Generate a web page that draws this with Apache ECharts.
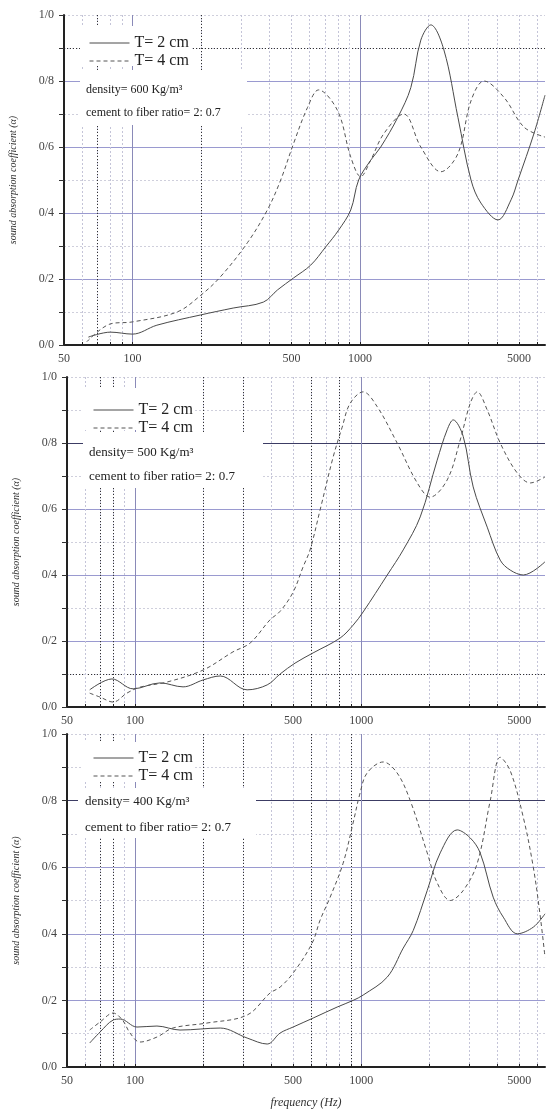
<!DOCTYPE html>
<html>
<head>
<meta charset="utf-8">
<script src="https://cdn.jsdelivr.net/npm/echarts@6/dist/echarts.min.js"></script>
<style>
html, body { margin: 0; padding: 0; background: #fff; }
#chart { width: 548px; height: 1113px; }
</style>
</head>
<body>
<div id="chart"></div>
<script>
// density 600 Kg/m3
var freq600a = [64, 80, 100, 128, 199, 277, 376, 434, 510, 607, 706, 805, 910, 986, 1114, 1233, 1466, 1672, 1850, 2047, 2337, 2693, 3074, 3400, 4040, 4610, 4950, 5820, 6500];
var abs600a = [0.024, 0.039, 0.033, 0.06, 0.091, 0.112, 0.13, 0.167, 0.203, 0.242, 0.297, 0.348, 0.409, 0.50, 0.56, 0.60, 0.69, 0.78, 0.924, 0.97, 0.894, 0.69, 0.50, 0.43, 0.379, 0.44, 0.50, 0.642, 0.757];
var freq600b = [63, 80, 100, 157, 199, 243, 320, 392, 448, 510, 588, 657, 797, 910, 1007, 1114, 1271, 1556, 1850, 2266, 2693, 3074, 3507, 4295, 5260, 6500];
var abs600b = [0.01, 0.064, 0.07, 0.10, 0.15, 0.206, 0.31, 0.41, 0.50, 0.61, 0.72, 0.773, 0.71, 0.57, 0.51, 0.56, 0.64, 0.70, 0.60, 0.525, 0.58, 0.74, 0.80, 0.75, 0.66, 0.63];
// density 500 Kg/m3
var freq500a = [63, 79, 98, 129, 163, 200, 238, 313, 384, 438, 510, 613, 807, 921, 1020, 1304, 1534, 1824, 2168, 2400, 2552, 2826, 3128, 3609, 4120, 4560, 5210, 6500];
var abs500a = [0.052, 0.085, 0.055, 0.073, 0.061, 0.082, 0.094, 0.052, 0.067, 0.10, 0.133, 0.164, 0.209, 0.248, 0.288, 0.40, 0.476, 0.576, 0.748, 0.84, 0.87, 0.82, 0.667, 0.545, 0.445, 0.415, 0.40, 0.44];
var freq500b = [63, 70, 80, 92, 105, 139, 200, 271, 323, 395, 438, 500, 553, 594, 658, 752, 824, 893, 1020, 1177, 1442, 1770, 2018, 2400, 2741, 3035, 3261, 3609, 4120, 4900, 5600, 6500];
var abs500b = [0.042, 0.03, 0.015, 0.042, 0.06, 0.076, 0.112, 0.167, 0.194, 0.264, 0.29, 0.348, 0.424, 0.476, 0.597, 0.758, 0.848, 0.92, 0.955, 0.91, 0.80, 0.679, 0.636, 0.688, 0.809, 0.92, 0.955, 0.90, 0.80, 0.709, 0.679, 0.697];
// density 400 Kg/m3
var freq400a = [63, 70, 80, 86, 102, 125, 158, 238, 313, 384, 438, 500, 613, 783, 921, 1020, 1304, 1534, 1699, 1959, 2236, 2659, 3035, 3359, 3835, 4250, 4900, 5770, 6500];
var abs400a = [0.072, 0.105, 0.141, 0.144, 0.12, 0.123, 0.111, 0.117, 0.087, 0.069, 0.102, 0.12, 0.147, 0.18, 0.20, 0.216, 0.27, 0.357, 0.41, 0.53, 0.643, 0.712, 0.688, 0.643, 0.51, 0.45, 0.40, 0.42, 0.46];
var freq400b = [63, 70, 80, 88, 95, 105, 125, 147, 208, 313, 395, 438, 500, 607, 658, 729, 832, 921, 989, 1062, 1251, 1442, 1648, 1959, 2168, 2477, 2826, 3261, 3722, 4120, 4560, 5210, 5770, 6200, 6500];
var abs400b = [0.111, 0.135, 0.162, 0.141, 0.102, 0.075, 0.09, 0.117, 0.132, 0.156, 0.222, 0.24, 0.282, 0.372, 0.441, 0.51, 0.612, 0.733, 0.823, 0.883, 0.916, 0.883, 0.80, 0.643, 0.553, 0.50, 0.53, 0.612, 0.80, 0.93, 0.89, 0.75, 0.60, 0.45, 0.33];

var seriesNames = ['T= 2 cm', 'T= 4 cm'];
var densityLabels = ['density= 600 Kg/m\u00b3', 'density= 500 Kg/m\u00b3', 'density= 400 Kg/m\u00b3'];
var ratioLabel = 'cement to fiber ratio= 2: 0.7';
var xLabelValues = [50, 100, 500, 1000, 5000];
var xGridValues = [60, 70, 80, 90, 100, 200, 300, 400, 500, 600, 700, 800, 900, 1000, 2000, 3000, 4000, 5000, 6000];
var xDecades = [100, 1000];
var yMajor = [0.2, 0.4, 0.6, 0.8];

var chart = echarts.init(document.getElementById('chart'));
var serif = '"Liberation Serif", "DejaVu Serif", serif';

var panels = [
    { freqA: freq600a, absA: abs600a, freqB: freq600b, absB: abs600b,
      left: 64, top: 15, height: 330, darkX: [70, 200], dottedY: [0.9], solidY: [],
      legend: [84, 30], legBox: [80, 26, 112, 40], txtBox: [80, 70, 167, 55], txt: [86, 90, 113], fs: 12 },
    { freqA: freq500a, absA: abs500a, freqB: freq500b, absB: abs500b,
      left: 67, top: 377, height: 330, darkX: [70, 80, 200, 300, 600, 800], dottedY: [0.1], solidY: [0.8],
      legend: [88, 397], legBox: [83, 388, 110, 42], txtBox: [83, 432, 180, 56], txt: [89, 453, 477], fs: 13 },
    { freqA: freq400a, absA: abs400a, freqB: freq400b, absB: abs400b,
      left: 67, top: 734, height: 333, darkX: [70, 80, 200, 300, 600, 900], dottedY: [], solidY: [0.8],
      legend: [88, 745], legBox: [83, 742, 110, 40], txtBox: [78, 788, 178, 50], txt: [85, 802, 828], fs: 13 }
];

function pairs(xs, ys) {
    return xs.map(function (x, i) { return [x, ys[i]]; });
}

var grids = [], xAxes = [], yAxes = [], series = [], legends = [], graphics = [];

function overlayX(gi, values, style) {
    xAxes.push({
        type: 'log', logBase: 10, min: 50, max: 6500, gridIndex: gi,
        axisLine: { show: false }, axisLabel: { show: false },
        axisTick: { show: false, customValues: values },
        splitLine: { show: true, lineStyle: style }
    });
}
function overlayY(gi, values, style) {
    yAxes.push({
        type: 'value', min: 0, max: 1, gridIndex: gi, position: 'left',
        axisLine: { show: false }, axisLabel: { show: false },
        axisTick: { show: false, customValues: values },
        splitLine: { show: true, lineStyle: style }
    });
}

panels.forEach(function (p, gi) {
    grids.push({ left: p.left, top: p.top, height: p.height, right: 3, containLabel: false });

    var xMain = xAxes.length;
    xAxes.push({
        type: 'log', logBase: 10, min: 50, max: 6500, gridIndex: gi,
        name: gi === 2 ? 'frequency (Hz)' : '',
        nameLocation: 'middle', nameGap: 30,
        nameTextStyle: { fontFamily: serif, fontStyle: 'italic', fontSize: 12, color: '#333' },
        axisLine: { show: true, lineStyle: { color: '#222', width: 2 } },
        axisTick: { show: true, inside: true, length: 3, customValues: xGridValues, lineStyle: { color: '#222' } },
        axisLabel: { customValues: xLabelValues, fontFamily: serif, fontSize: 12, color: '#444', margin: 8,
            formatter: function (v) { return String(Math.round(v)); } },
        splitLine: { show: true, lineStyle: { color: '#c4c4d8', type: [2, 2], width: 1 } }
    });
    overlayX(gi, xDecades, { color: '#8a8ab8', width: 1 });
    overlayX(gi, p.darkX, { color: '#333', type: [1, 2], width: 1 });

    var yMain = yAxes.length;
    yAxes.push({
        type: 'value', min: 0, max: 1, interval: 0.1, gridIndex: gi, position: 'left',
        name: 'sound absorption coefficient (\u03b1)', nameLocation: 'middle', nameGap: 46,
        nameTextStyle: { fontFamily: serif, fontStyle: 'italic', fontSize: 10, color: '#333' },
        axisLine: { show: true, lineStyle: { color: '#222', width: 2 } },
        axisTick: { show: true, length: 5, lineStyle: { color: '#333' } },
        axisLabel: { fontFamily: serif, fontSize: 12, color: '#444', margin: 10,
            formatter: function (v) {
                return Math.round(v * 10) % 2 ? '' : v.toFixed(1).replace('.', '/');
            } },
        splitLine: { show: true, lineStyle: { color: '#cfcfdc', type: [2, 2], width: 1 } }
    });
    overlayY(gi, yMajor, { color: '#9a9ad0', width: 1 });
    if (p.dottedY.length) overlayY(gi, p.dottedY, { color: '#333', type: [1, 2], width: 1 });
    if (p.solidY.length) overlayY(gi, p.solidY, { color: '#3c3c64', width: 1.2 });

    series.push({
        name: seriesNames[0], type: 'line', xAxisIndex: xMain, yAxisIndex: yMain,
        data: pairs(p.freqA, p.absA), smooth: 0.35, symbol: 'none', z: 3,
        color: '#4a4a4a', lineStyle: { width: 1, color: '#4a4a4a' }
    });
    series.push({
        name: seriesNames[1], type: 'line', xAxisIndex: xMain, yAxisIndex: yMain,
        data: pairs(p.freqB, p.absB), smooth: 0.35, symbol: 'none', z: 3,
        color: '#555', lineStyle: { width: 1, color: '#555', type: [4, 3] }
    });

    legends.push({
        orient: 'vertical', left: p.legend[0], top: p.legend[1], data: seriesNames,
        itemWidth: 40, itemHeight: 14, itemGap: 2, z: 10, selectedMode: false,
        itemStyle: { color: 'rgba(0,0,0,0)', borderWidth: 0, opacity: 0 },
        lineStyle: { width: 1 },
        textStyle: { fontFamily: serif, fontSize: 16, color: '#222' }
    });

    graphics.push({ type: 'rect', z: 8, shape: { x: p.legBox[0], y: p.legBox[1], width: p.legBox[2], height: p.legBox[3] }, style: { fill: '#fff' } });
    graphics.push({ type: 'rect', z: 8, shape: { x: p.txtBox[0], y: p.txtBox[1], width: p.txtBox[2], height: p.txtBox[3] }, style: { fill: '#fff' } });
    graphics.push({ type: 'text', z: 9, x: p.txt[0], y: p.txt[1], style: { text: densityLabels[gi], font: p.fs + 'px ' + serif, fill: '#222', verticalAlign: 'middle' } });
    graphics.push({ type: 'text', z: 9, x: p.txt[0], y: p.txt[2], style: { text: ratioLabel, font: p.fs + 'px ' + serif, fill: '#222', verticalAlign: 'middle' } });
});

var option = {
    backgroundColor: '#fff',
    animation: false,
    grid: grids,
    xAxis: xAxes,
    yAxis: yAxes,
    legend: legends,
    graphic: graphics,
    series: series
};
chart.setOption(option);
</script>
</body>
</html>
